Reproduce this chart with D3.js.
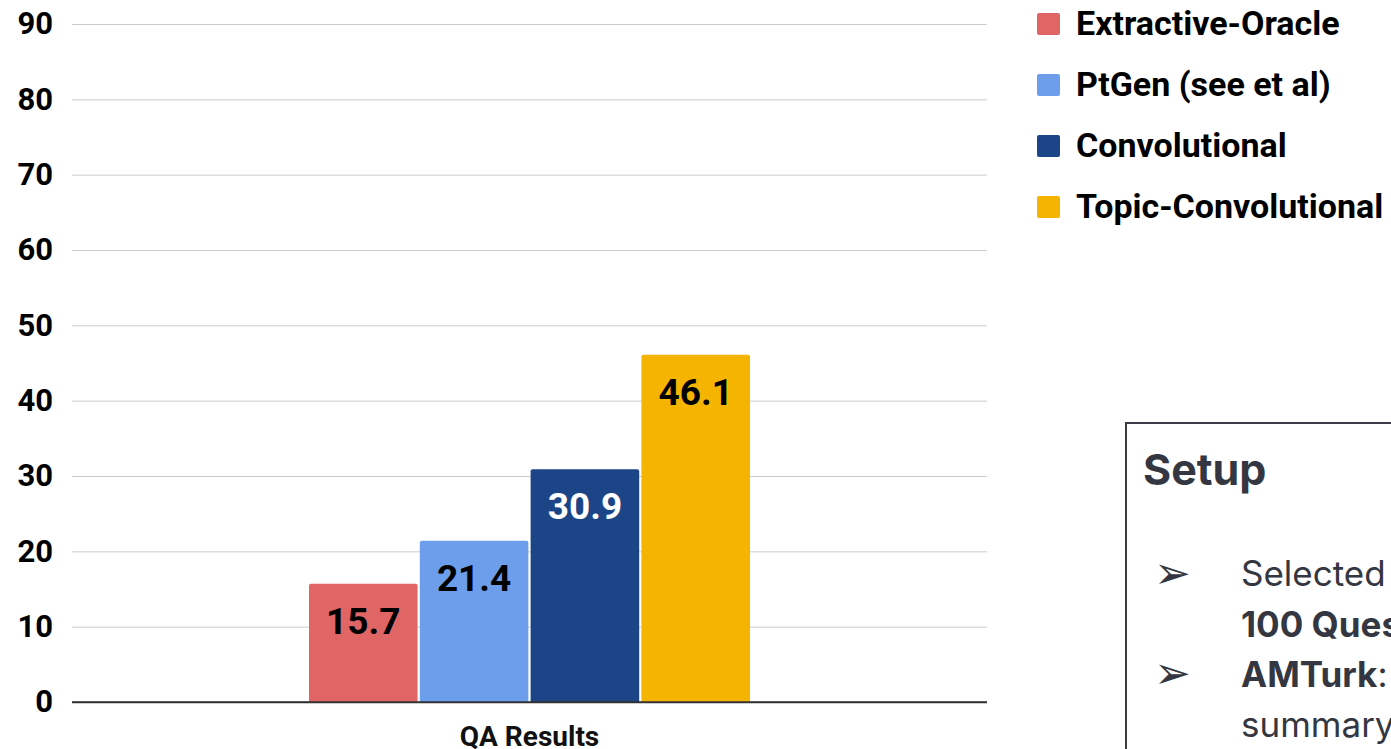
<!DOCTYPE html>
<html>
<head>
<meta charset="utf-8">
<script src="https://cdn.jsdelivr.net/npm/d3@7"></script>
<style>
  body { margin: 0; background: #fff; overflow: hidden; }
  svg { display: block; }
</style>
</head>
<body>
<svg id="chart" width="1391" height="749"></svg>
<script>
// data
const category = "QA Results";
const seriesNames = ["Extractive-Oracle", "PtGen (see et al)", "Convolutional", "Topic-Convolutional"];
const seriesValues = [15.7, 21.4, 30.9, 46.1];
const seriesColors = ["#e06666", "#6d9eeb", "#1c4587", "#f4b400"];
const labelColors = ["#000", "#000", "#fff", "#000"];
const yTicks = [0, 10, 20, 30, 40, 50, 60, 70, 80, 90];

const svg = d3.select("#chart");
const plot = {left: 72, right: 987, top: 24, bottom: 702};

// y scale, 0..90
const yScale = d3.scaleLinear()
  .domain([0, 90])
  .range([plot.bottom, plot.top]);

// outer band for the single category, inner band for the series
const x0 = d3.scaleBand()
  .domain([category])
  .range([plot.left, plot.right]);
const x1 = d3.scaleBand()
  .domain(seriesNames)
  .range([309, 750])
  .paddingInner(0.02);

// gridlines
const yAxis = d3.axisLeft(yScale)
  .tickValues(yTicks)
  .tickSize(-(plot.right - plot.left))
  .tickPadding(19)
  .tickFormat(d3.format("d"));

const gAxis = svg.append("g")
  .attr("transform", "translate(" + plot.left + ",0)")
  .call(yAxis);
gAxis.select(".domain").remove();
gAxis.selectAll(".tick line")
  .attr("stroke", (d) => d === 0 ? "#333" : "#cccccc")
  .attr("stroke-width", (d) => d === 0 ? 1.5 : 1);
gAxis.selectAll(".tick text")
  .attr("font-family", "Roboto, sans-serif")
  .attr("font-weight", "bold")
  .attr("font-size", 31)
  .attr("fill", "#000");

// bars
const bars = svg.append("g");
seriesNames.forEach((name, i) => {
  const x = x1(name);
  const y = yScale(seriesValues[i]);
  const w = x1.bandwidth();
  const h = yScale(0) - y;
  bars.append("path")
    .attr("d", "M" + x + "," + (y + h) + "V" + (y + 2) + "Q" + x + "," + y + " " + (x + 2) + "," + y +
      "H" + (x + w - 2) + "Q" + (x + w) + "," + y + " " + (x + w) + "," + (y + 2) + "V" + (y + h) + "Z")
    .attr("fill", seriesColors[i]);
  bars.append("text")
    .attr("x", x + w / 2)
    .attr("y", y + 50)
    .attr("text-anchor", "middle")
    .attr("font-family", "Roboto, sans-serif")
    .attr("font-weight", "bold")
    .attr("font-size", 37)
    .attr("fill", labelColors[i])
    .text(seriesValues[i]);
});

// redraw baseline on top of bars
svg.append("line")
  .attr("x1", plot.left).attr("x2", plot.right)
  .attr("y1", yScale(0)).attr("y2", yScale(0))
  .attr("stroke", "#333").attr("stroke-width", 1.5);

// category label
svg.append("text")
  .attr("x", x0(category) + x0.bandwidth() / 2)
  .attr("y", 746)
  .attr("text-anchor", "middle")
  .attr("font-family", "Roboto, sans-serif")
  .attr("font-weight", "bold")
  .attr("font-size", 28)
  .attr("fill", "#111")
  .text(category);

// legend
const legend = svg.append("g").attr("transform", "translate(1037,0)");
seriesNames.forEach((name, i) => {
  const cy = 24 + i * 61;
  legend.append("rect")
    .attr("x", 0).attr("y", cy - 11)
    .attr("width", 23).attr("height", 22)
    .attr("rx", 2)
    .attr("fill", seriesColors[i]);
  legend.append("text")
    .attr("x", 39).attr("y", cy + 11)
    .attr("font-family", "Roboto, sans-serif")
    .attr("font-weight", "bold")
    .attr("font-size", 34)
    .attr("fill", "#000")
    .text(name);
});

// Setup box on the slide, clipped at the right and bottom
const box = svg.append("g");
box.append("rect")
  .attr("x", 1126).attr("y", 423)
  .attr("width", 300).attr("height", 400)
  .attr("fill", "none")
  .attr("stroke", "#3a3d46")
  .attr("stroke-width", 2);
const font = "Inter, Lato, sans-serif";
box.append("text")
  .attr("x", 1143).attr("y", 485)
  .attr("font-family", font).attr("font-weight", "bold")
  .attr("font-size", 43).attr("fill", "#343741")
  .text("Setup");
[573, 673].forEach((y) => {
  box.append("text")
    .attr("x", 1154).attr("y", y + 15)
    .attr("font-family", "'DejaVu Sans', sans-serif")
    .attr("font-size", 44).attr("fill", "#343741")
    .text("➢");
});
box.append("text")
  .attr("x", 1241).attr("y", 586)
  .attr("font-family", font).attr("font-size", 35).attr("fill", "#343741")
  .text("Selected 20 articles,");
box.append("text")
  .attr("x", 1241).attr("y", 637)
  .attr("font-family", font).attr("font-weight", "bold")
  .attr("font-size", 35).attr("fill", "#343741")
  .text("100 Questions");
const t = box.append("text")
  .attr("x", 1241).attr("y", 687)
  .attr("font-family", font).attr("font-size", 35).attr("fill", "#343741");
t.append("tspan").attr("font-weight", "bold").text("AMTurk");
t.append("tspan").text(": answer using");
box.append("text")
  .attr("x", 1241).attr("y", 737)
  .attr("font-family", font).attr("font-size", 35).attr("fill", "#343741")
  .text("summary-only");
</script>
</body>
</html>
